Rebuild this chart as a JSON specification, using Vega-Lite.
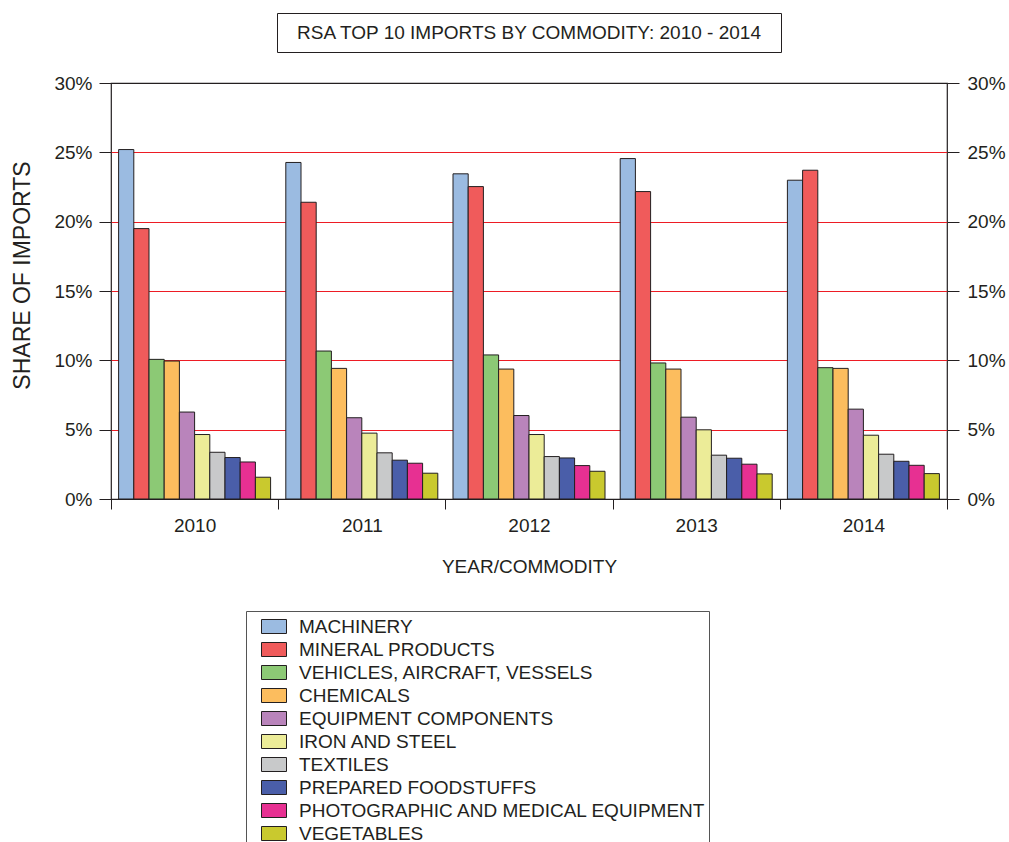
{
  "$schema": "https://vega.github.io/schema/vega-lite/v6.json",
  "padding": {"left": 11, "top": 12, "right": 0, "bottom": 0},
  "config": {
    "font": "Liberation Sans",
    "view": {"stroke": "#231f20", "strokeWidth": 1.2},
    "axis": {"labelColor": "#231f20", "titleColor": "#231f20", "labelFont": "Liberation Sans", "titleFont": "Liberation Sans", "titleFontWeight": "normal", "tickColor": "#231f20", "domainColor": "#231f20"}
  },
  "bounds": "flush",
  "center": true,
  "spacing": 31,
  "vconcat": [
    {
      "width": 504,
      "height": 39,
      "view": {"stroke": "#231f20", "strokeWidth": 1},
      "data": {"values": [{"label": "RSA TOP 10 IMPORTS BY COMMODITY: 2010 - 2014"}]},
      "mark": {"type": "text", "font": "Liberation Sans", "fontSize": 19, "color": "#231f20"},
      "encoding": {"text": {"field": "label", "type": "nominal"}}
    },
    {
      "width": 836,
      "height": 416,
      "data": {"values": [
        {"year": "2010", "commodity": "MACHINERY", "share": 25.2},
        {"year": "2010", "commodity": "MINERAL PRODUCTS", "share": 19.5},
        {"year": "2010", "commodity": "VEHICLES, AIRCRAFT, VESSELS", "share": 10.07},
        {"year": "2010", "commodity": "CHEMICALS", "share": 9.95},
        {"year": "2010", "commodity": "EQUIPMENT COMPONENTS", "share": 6.27},
        {"year": "2010", "commodity": "IRON AND STEEL", "share": 4.65},
        {"year": "2010", "commodity": "TEXTILES", "share": 3.37},
        {"year": "2010", "commodity": "PREPARED FOODSTUFFS", "share": 2.99},
        {"year": "2010", "commodity": "PHOTOGRAPHIC AND MEDICAL EQUIPMENT", "share": 2.67},
        {"year": "2010", "commodity": "VEGETABLES", "share": 1.57},
        {"year": "2011", "commodity": "MACHINERY", "share": 24.27},
        {"year": "2011", "commodity": "MINERAL PRODUCTS", "share": 21.4},
        {"year": "2011", "commodity": "VEHICLES, AIRCRAFT, VESSELS", "share": 10.67},
        {"year": "2011", "commodity": "CHEMICALS", "share": 9.42},
        {"year": "2011", "commodity": "EQUIPMENT COMPONENTS", "share": 5.86},
        {"year": "2011", "commodity": "IRON AND STEEL", "share": 4.75},
        {"year": "2011", "commodity": "TEXTILES", "share": 3.33},
        {"year": "2011", "commodity": "PREPARED FOODSTUFFS", "share": 2.8},
        {"year": "2011", "commodity": "PHOTOGRAPHIC AND MEDICAL EQUIPMENT", "share": 2.58},
        {"year": "2011", "commodity": "VEGETABLES", "share": 1.86},
        {"year": "2012", "commodity": "MACHINERY", "share": 23.45},
        {"year": "2012", "commodity": "MINERAL PRODUCTS", "share": 22.53},
        {"year": "2012", "commodity": "VEHICLES, AIRCRAFT, VESSELS", "share": 10.39},
        {"year": "2012", "commodity": "CHEMICALS", "share": 9.37},
        {"year": "2012", "commodity": "EQUIPMENT COMPONENTS", "share": 6.02},
        {"year": "2012", "commodity": "IRON AND STEEL", "share": 4.65},
        {"year": "2012", "commodity": "TEXTILES", "share": 3.06},
        {"year": "2012", "commodity": "PREPARED FOODSTUFFS", "share": 2.96},
        {"year": "2012", "commodity": "PHOTOGRAPHIC AND MEDICAL EQUIPMENT", "share": 2.41},
        {"year": "2012", "commodity": "VEGETABLES", "share": 2.0},
        {"year": "2013", "commodity": "MACHINERY", "share": 24.55},
        {"year": "2013", "commodity": "MINERAL PRODUCTS", "share": 22.17},
        {"year": "2013", "commodity": "VEHICLES, AIRCRAFT, VESSELS", "share": 9.81},
        {"year": "2013", "commodity": "CHEMICALS", "share": 9.37},
        {"year": "2013", "commodity": "EQUIPMENT COMPONENTS", "share": 5.9},
        {"year": "2013", "commodity": "IRON AND STEEL", "share": 4.99},
        {"year": "2013", "commodity": "TEXTILES", "share": 3.16},
        {"year": "2013", "commodity": "PREPARED FOODSTUFFS", "share": 2.94},
        {"year": "2013", "commodity": "PHOTOGRAPHIC AND MEDICAL EQUIPMENT", "share": 2.51},
        {"year": "2013", "commodity": "VEGETABLES", "share": 1.81},
        {"year": "2014", "commodity": "MACHINERY", "share": 22.99},
        {"year": "2014", "commodity": "MINERAL PRODUCTS", "share": 23.71},
        {"year": "2014", "commodity": "VEHICLES, AIRCRAFT, VESSELS", "share": 9.47},
        {"year": "2014", "commodity": "CHEMICALS", "share": 9.42},
        {"year": "2014", "commodity": "EQUIPMENT COMPONENTS", "share": 6.48},
        {"year": "2014", "commodity": "IRON AND STEEL", "share": 4.6},
        {"year": "2014", "commodity": "TEXTILES", "share": 3.23},
        {"year": "2014", "commodity": "PREPARED FOODSTUFFS", "share": 2.72},
        {"year": "2014", "commodity": "PHOTOGRAPHIC AND MEDICAL EQUIPMENT", "share": 2.43},
        {"year": "2014", "commodity": "VEGETABLES", "share": 1.83}
      ]},
      "resolve": {"axis": {"y": "independent"}},
      "layer": [
        {
          "mark": {"type": "bar", "stroke": "#231f20", "strokeWidth": 1},
          "encoding": {
            "x": {
              "field": "year", "type": "nominal",
              "scale": {"paddingInner": 0, "paddingOuter": 0},
              "axis": {"title": "YEAR/COMMODITY", "labelAngle": 0, "labelFontSize": 19, "titleFontSize": 19, "tickBand": "extent", "tickSize": 10, "tickWidth": 1, "labelPadding": 7, "titlePadding": 22, "domain": false}
            },
            "xOffset": {
              "field": "commodity", "type": "nominal",
              "sort": ["MACHINERY", "MINERAL PRODUCTS", "VEHICLES, AIRCRAFT, VESSELS", "CHEMICALS", "EQUIPMENT COMPONENTS", "IRON AND STEEL", "TEXTILES", "PREPARED FOODSTUFFS", "PHOTOGRAPHIC AND MEDICAL EQUIPMENT", "VEGETABLES"],
              "scale": {"paddingInner": 0, "paddingOuter": 0.5}
            },
            "y": {
              "field": "share", "type": "quantitative",
              "scale": {"domain": [0, 30], "nice": false},
              "axis": {
                "title": "SHARE OF IMPORTS", "titleFontSize": 23, "titlePadding": 19, "titleY": 192,
                "values": [0, 5, 10, 15, 20, 25, 30], "labelExpr": "datum.value + '%'",
                "labelFontSize": 19, "labelPadding": 7, "tickSize": 12, "tickWidth": 1,
                "domain": false,
                "grid": true, "gridColor": "#ed1c24", "gridWidth": 1.2,
                "gridOpacity": {"condition": {"test": "datum.value === 0 || datum.value === 30", "value": 0}, "value": 1}
              }
            },
            "color": {
              "field": "commodity", "type": "nominal",
              "scale": {
                "domain": ["MACHINERY", "MINERAL PRODUCTS", "VEHICLES, AIRCRAFT, VESSELS", "CHEMICALS", "EQUIPMENT COMPONENTS", "IRON AND STEEL", "TEXTILES", "PREPARED FOODSTUFFS", "PHOTOGRAPHIC AND MEDICAL EQUIPMENT", "VEGETABLES"],
                "range": ["#9bbbe1", "#f05b5b", "#8cc975", "#fcbd5e", "#b984bb", "#ecec98", "#c8c9ca", "#4a5ea9", "#e73092", "#c9c92e"]
              },
              "legend": {
                "orient": "none", "legendX": 135, "legendY": 598, "title": null, "direction": "vertical",
                "symbolType": "M-1,-0.56H1V0.56H-1Z", "symbolSize": 625,
                "symbolStrokeColor": "#231f20", "symbolStrokeWidth": 1,
                "labelFont": "Liberation Sans", "labelFontSize": 19, "labelColor": "#231f20", "labelLimit": 700,
                "labelOffset": 12, "rowPadding": -2.5, "padding": 2.5, "symbolOffset": 12.5,
                "strokeColor": "#555555"
              }
            }
          }
        },
        {
          "mark": {"type": "rule", "strokeOpacity": 0},
          "encoding": {
            "y": {
              "field": "share", "type": "quantitative",
              "axis": {
                "orient": "right", "title": null,
                "values": [0, 5, 10, 15, 20, 25, 30], "labelExpr": "datum.value + '%'",
                "labelFontSize": 19, "labelPadding": 8, "tickSize": 12, "tickWidth": 1,
                "domain": false, "grid": false
              }
            }
          }
        }
      ]
    }
  ]
}
